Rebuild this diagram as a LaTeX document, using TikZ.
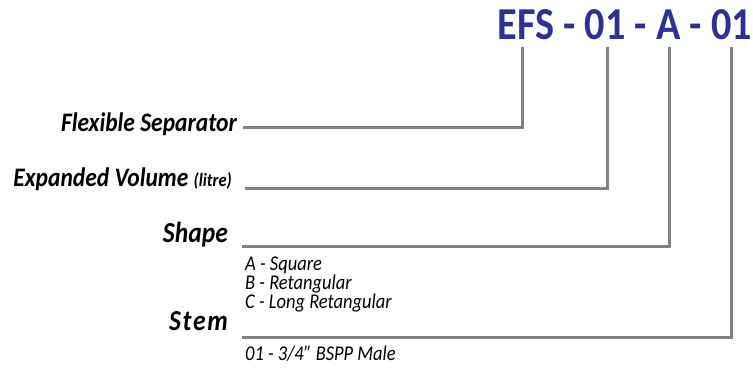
\documentclass[tikz,border=0pt]{standalone}
\usepackage{fontspec}
\setmainfont{Carlito}[FakeStretch=0.88]
\usetikzlibrary{positioning}

\definecolor{codeblue}{HTML}{2E3192}
\definecolor{leadgray}{HTML}{808085}

\tikzset{
  leader/.style={draw=leadgray, line width=3pt},
  partlabel/.style={font=\fontsize{26.7}{30}\selectfont\bfseries\itshape, anchor=base east, inner sep=0pt},
  optionlist/.style={font=\fontsize{21}{17}\selectfont\itshape, anchor=north west, inner sep=0pt, align=left}
}

\begin{document}
\begin{tikzpicture}[x=1pt, y=-1pt]
    \useasboundingbox (0,0) rectangle (753,377);

    % Product code at top
    \node[codeblue, font=\fontsize{45.7}{50}\selectfont\bfseries, anchor=base east, inner sep=0pt] (code) at (752,40) {EFS - 01 - A - 01};

    % Tops of the leaders, under each part of the code
    \coordinate (efs) at (522,47);
    \coordinate (vol) at (607,47);
    \coordinate (shp) at (669,47);
    \coordinate (stm) at (731,47);

    % Part labels
    \node[partlabel] (sep) at (237,132) {Flexible Separator};
    \node[partlabel] (exp) at (232,187) {Expanded Volume {\fontsize{18.8}{20}\selectfont(litre)}};
    \node[partlabel, font=\fontsize{29}{32}\selectfont\bfseries\itshape] (shape) at (228,242) {Shape};
    \node[partlabel, font=\fontsize{29}{32}\selectfont\bfseries\itshape\addfontfeature{LetterSpace=6}] (stem) at (228,330) {Stem};

    % Leader start points
    \coordinate (sepL) at (243,128);
    \coordinate (expL) at (245,189);
    \coordinate (shapeL) at (242,246);
    \coordinate (stemL) at (242,337);

    % Leaders
    \draw[leader] (sepL) -| (efs);
    \draw[leader] (expL) -| (vol);
    \draw[leader] (shapeL) -| (shp);
    \draw[leader] (stemL) -| (stm);

    % Options
    \node[optionlist] (shapeopts) at (245,257) {A - Square\\B - Retangular\\C - Long Retangular};
    \node[optionlist] (stemopts) at (245,346) {01 - 3/4” BSPP Male};
\end{tikzpicture}
\end{document}
